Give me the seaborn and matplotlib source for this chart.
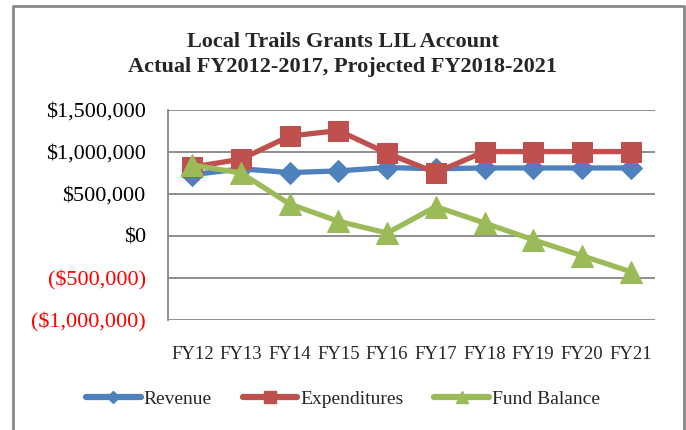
import matplotlib
matplotlib.use('Agg')
import matplotlib.pyplot as plt
from matplotlib.lines import Line2D
from matplotlib.ticker import FuncFormatter
import pandas as pd
import seaborn as sns

years = ['FY12', 'FY13', 'FY14', 'FY15', 'FY16', 'FY17', 'FY18', 'FY19', 'FY20', 'FY21']
revenue = [730000, 800000, 755000, 775000, 815000, 800000, 810000, 810000, 810000, 810000]
expenditures = [820000, 915000, 1190000, 1255000, 985000, 755000, 1005000, 1005000, 1005000, 1005000]
fund_balance = [845000, 750000, 380000, 175000, 35000, 350000, 155000, -45000, -235000, -425000]
y_ticks = [-1000000, -500000, 0, 500000, 1000000, 1500000]

series = {'Revenue': revenue, 'Expenditures': expenditures, 'Fund Balance': fund_balance}
rows = []
for name, vals in series.items():
    for i, v in enumerate(vals):
        rows.append({'idx': i, 'year': years[i], 'value': v, 'series': name})
df = pd.DataFrame(rows)

sns.set_style('white')
plt.rcParams['font.family'] = ['Liberation Serif', 'DejaVu Serif']

colors = {'Revenue': '#4F81BD', 'Expenditures': '#C0504D', 'Fund Balance': '#9BBB59'}
markers = {'Revenue': 'D', 'Expenditures': 's', 'Fund Balance': '^'}
msizes = {'Revenue': 11, 'Expenditures': 14.5, 'Fund Balance': 16}

fig = plt.figure(figsize=(6.86, 4.30), dpi=100)
ax = fig.add_axes([168 / 686, 1 - 320 / 430, (655 - 168) / 686, (320 - 110) / 430])

for name in series:
    sub = df[df['series'] == name]
    sns.lineplot(data=sub, x='idx', y='value', ax=ax, color=colors[name],
                 marker=markers[name], markersize=msizes[name], linewidth=3.8,
                 markeredgecolor=colors[name], label=name, legend=False)

ax.set_xlim(-0.5, 9.5)
ax.set_ylim(-1000000, 1500000)
ax.set_yticks(y_ticks)
ax.set_xticks(range(len(years)))
ax.set_xticklabels(years)


def money(v, pos):
    if v < 0:
        return '(${:,.0f})'.format(-v)
    return '${:,.0f}'.format(v)


ax.yaxis.set_major_formatter(FuncFormatter(money))
ax.grid(axis='y', color='#868686', linewidth=1.3)
ax.set_axisbelow(True)
for s in ['top', 'right', 'bottom']:
    ax.spines[s].set_visible(False)
ax.spines['left'].set_color('#868686')
ax.spines['left'].set_linewidth(1.3)
ax.tick_params(axis='y', length=0, labelsize=16, pad=16)
ax.tick_params(axis='x', length=0, labelsize=13.5, pad=19)
for lbl, t in zip(ax.get_yticklabels(), y_ticks):
    lbl.set_color('red' if t < 0 else 'black')
ax.set_xlabel('')
ax.set_ylabel('')

fig.text(0.5, 1 - 42 / 430, 'Local Trails Grants LIL Account', ha='center', va='center',
         fontsize=16, fontweight='bold')
fig.text(0.5, 1 - 67 / 430, 'Actual FY2012-2017, Projected FY2018-2021', ha='center', va='center',
         fontsize=16, fontweight='bold')

handles = [Line2D([], [], color=colors[n], marker=markers[n], markersize=msizes[n] * 0.55,
                  linewidth=4.5, markeredgecolor=colors[n]) for n in series]
fig.legend(handles, list(series.keys()), loc='center', bbox_to_anchor=(0.5, 1 - 399 / 430),
           ncol=3, frameon=False, fontsize=14, handlelength=2.8, handletextpad=0.15,
           columnspacing=1.6)

# outer chart border (left, top, right)
fx = [13 / 686, 13 / 686, 684 / 686, 684 / 686]
fy = [0, 1 - 6 / 430, 1 - 6 / 430, 0]
fig.add_artist(Line2D(fx, fy, color='#888888', linewidth=2, transform=fig.transFigure))

fig.savefig('out.png', dpi=100)
